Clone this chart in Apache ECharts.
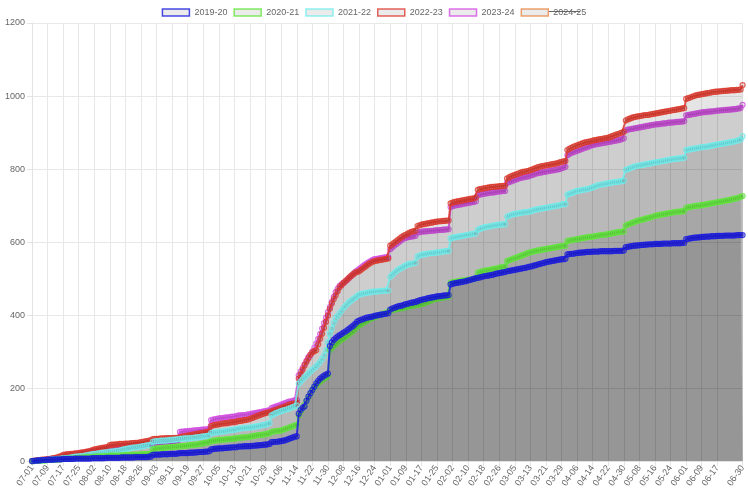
<!DOCTYPE html>
<html>
<head>
<meta charset="utf-8">
<script src="https://cdn.jsdelivr.net/npm/echarts@6.0.0/dist/echarts.min.js"></script>
<style>
  html, body { margin: 0; padding: 0; background: #fff; }
  #main { width: 748px; height: 490px; }
</style>
</head>
<body>
<div id="main"></div>
<script>
// season year labels and line colours
var seasons = ['2019-20', '2020-21', '2021-22', '2022-23', '2023-24', '2024-25'];
var colors = ['#1c1ce0', '#62e63c', '#72ecec', '#dc3a2e', '#d44ee4', '#e8884a'];

// day labels 07-01 .. 06-30 (leap season, 366 days)
var months = [7, 8, 9, 10, 11, 12, 1, 2, 3, 4, 5, 6];
var monthDays = [31, 31, 30, 31, 30, 31, 31, 29, 31, 30, 31, 30];
var days = [];
months.forEach(function (m, i) {
  for (var d = 1; d <= monthDays[i]; d++) {
    days.push((m < 10 ? '0' : '') + m + '-' + (d < 10 ? '0' : '') + d);
  }
});

// cumulative counts, one value per day
var s2019 = [
  0,1,1,2,2,3,3,3, 4,4,4,4,5,5,5,5, 6,6,6,6,6,6,7,7, 7,7,7,7,7,7,7,8,
  8,8,8,8,8,8,9,9, 9,9,9,9,9,9,10,10, 10,10,10,10,10,11,11,11, 11,11,11,11,12,12,17,18,
  18,18,18,19,19,19,19,20, 20,20,20,21,22,22,22,22, 22,23,23,23,24,24,25,25, 25,26,26,27,32,33,34,34,
  35,35,35,36,36,37,37,38, 38,38,40,40,40,41,41,41, 41,42,42,43,43,44,44,45, 45,46,47,52,52,53,53,54,
  55,56,57,59,61,63,65,67, 68,130,140,146,150,165,177,186, 195,204,213,220,226,230,234,237, 240,315,325,332,337,341,345,348,
  352,355,359,363,367,371,376,382, 385,387,389,391,393,394,395,396, 398,399,400,401,402,403,404,405, 415,418,420,422,424,425,426,428,
  430,431,433,434,435,436,438,440, 442,443,444,446,447,448,449,450, 451,452,452,453,454,454,455,484, 486,487,488,489,490,491,492,493,
  495,496,498,499,501,502,503,505, 506,507,508,509,510,511,513,514, 515,516,517,518,520,521,522,523, 524,525,526,527,528,529,530,532,
  533,534,536,537,539,540,542,543, 545,546,547,548,549,550,551,552, 553,553,554,566,567,568,568,569, 570,571,571,572,572,573,573,573,
  574,574,574,574,575,575,575,575, 575,575,575,576,576,576,576,576, 577,586,587,588,589,590,590,591, 591,592,592,593,593,594,594,594,
  595,595,595,595,596,596,596,596, 596,597,597,597,597,597,598,598, 608,609,610,611,612,612,613,613, 614,614,615,615,615,616,616,616,
  617,617,617,617,618,618,618,618, 618,618,619,619,619,619
];
var s2020 = [
  0,0,1,1,1,2,2,2, 3,3,3,4,4,4,5,5, 6,6,6,7,7,7,8,8, 9,9,9,10,10,10,11,11,
  12,12,13,13,13,13,14,14, 15,15,15,15,15,15,16,16, 17,17,17,17,18,18,18,18, 19,19,19,19,20,20,32,33,
  35,35,36,36,37,37,38,38, 39,39,40,40,41,41,42,42, 43,44,44,45,45,46,47,48, 49,50,51,52,55,56,56,57,
  58,58,59,59,60,60,61,61, 62,62,64,64,65,65,66,66, 67,68,69,70,71,72,72,73, 74,75,76,80,81,82,83,83,
  84,86,88,90,92,94,96,98, 99,125,135,145,155,165,175,185, 195,202,208,213,218,222,226,230, 233,305,310,315,320,325,330,333,
  336,340,344,348,352,356,362,368, 372,375,378,381,384,387,390,392, 395,397,399,401,403,405,407,408, 413,414,415,416,417,418,419,420,
  422,423,424,425,426,427,428,429, 430,432,434,436,438,440,442,444, 445,446,447,448,449,450,451,488, 490,491,492,493,494,495,495,496,
  497,497,498,499,500,516,518,520, 521,522,523,524,525,526,527,528, 530,531,532,533,548,550,552,554, 556,558,560,562,564,566,568,571,
  572,573,575,576,577,578,579,580, 581,582,583,584,585,586,587,588, 589,590,590,603,604,605,606,607, 608,609,610,611,612,613,614,614,
  615,616,617,618,619,620,620,621, 622,623,624,625,626,627,628,628, 629,645,648,650,652,654,656,658, 660,661,662,664,665,667,668,670,
  672,673,674,675,676,677,678,679, 680,681,682,683,683,684,684,685, 694,695,696,697,698,699,700,700, 701,702,703,704,705,706,707,708,
  709,710,711,712,713,714,715,716, 718,719,720,722,724,726
];
var s2021 = [
  0,0,1,1,2,2,3,3, 3,4,4,5,5,6,6,7, 8,8,9,9,10,11,12,12, 13,14,14,15,16,17,18,19,
  20,20,21,22,23,23,24,25, 26,26,27,28,28,29,31,32, 33,34,35,36,37,38,38,39, 40,41,42,43,44,44,53,54,
  55,55,56,56,56,57,57,58, 58,59,59,60,61,61,62,62, 62,63,63,64,65,65,66,67, 68,68,69,70,77,78,79,79,
  80,81,81,82,83,84,85,85, 86,87,89,89,90,91,91,92, 92,93,94,95,96,97,98,99, 100,102,104,125,128,131,133,135,
  137,139,140,142,144,146,148,150, 152,212,218,224,230,235,240,245, 250,255,260,266,272,280,290,304, 325,349,363,378,390,398,405,412,
  420,425,431,436,440,444,448,452, 456,458,459,460,461,462,463,464, 464,465,465,466,466,467,467,467, 505,510,515,520,524,527,530,533,
  536,538,540,541,542,543,560,563, 565,566,567,568,569,570,570,571, 572,572,573,574,575,575,576,610, 612,613,614,615,616,617,618,619,
  620,621,622,623,624,634,636,638, 640,641,642,643,644,645,646,647, 648,648,649,649,670,672,674,676, 677,678,679,680,681,682,682,683,
  684,686,688,689,690,691,692,693, 694,695,696,697,698,699,700,701, 703,704,704,730,732,734,736,738, 740,741,742,743,744,745,746,748,
  750,752,754,756,757,758,759,760, 761,762,763,764,765,765,766,767, 768,798,800,802,804,806,808,809, 810,811,812,813,814,815,816,817,
  818,819,820,821,822,823,824,825, 826,827,828,828,829,830,830,831, 852,853,854,855,856,857,858,859, 860,861,861,862,863,864,865,866,
  867,868,869,870,871,872,873,874, 875,876,878,879,881,890
];
var s2022 = [
  0,1,2,3,3,4,4,5, 5,6,7,8,9,10,12,14, 17,18,19,19,20,20,21,21, 22,23,24,25,26,27,28,30,
  32,33,34,35,36,37,38,39, 44,45,45,46,46,47,47,47, 48,48,48,49,49,50,50,51, 52,53,54,55,56,57,60,61,
  61,61,62,62,62,63,63,63, 63,64,64,64,66,67,68,69, 70,71,72,73,74,75,76,77, 78,79,80,81,96,98,99,100,
  101,102,103,104,104,105,106,107, 107,108,110,110,111,112,113,114, 116,118,120,122,124,126,128,130, 132,133,134,136,138,140,142,144,
  146,148,150,152,154,156,157,158, 160,226,238,250,262,272,282,292, 298,301,304,320,335,349,365,382, 399,417,432,444,454,465,476,482,
  488,493,498,503,508,512,516,518, 520,524,528,532,536,540,543,546, 548,549,550,551,552,553,554,555, 590,594,598,602,606,610,614,618,
  620,623,626,628,630,631,644,646, 648,649,650,651,652,653,654,655, 656,657,657,658,658,659,659,706, 708,710,711,712,713,714,715,716,
  717,718,719,720,722,743,745,746, 747,748,749,750,751,751,752,752, 753,753,754,754,774,777,780,782, 784,786,788,790,792,793,794,795,
  797,799,801,803,805,807,808,809, 810,811,812,813,814,815,816,818, 820,821,822,852,855,858,861,863, 865,867,869,871,873,874,875,876,
  878,879,880,881,882,883,884,885, 886,888,890,892,894,896,898,900, 902,933,936,938,940,942,943,944, 945,946,947,948,948,949,950,951,
  952,953,954,955,956,957,958,959, 960,961,962,963,964,965,966,967, 992,994,996,998,1000,1002,1003,1004, 1005,1006,1007,1008,1009,1010,1011,1012,
  1012,1013,1013,1014,1014,1015,1015,1016, 1016,1016,1017,1017,1018,1030
];
var s2023 = [
  0,1,1,2,2,3,3,4, 4,5,6,7,8,9,10,11, 12,13,14,15,16,17,18,19, 20,21,22,23,24,25,26,27,
  28,29,30,31,32,33,33,34, 35,35,36,36,37,37,38,38, 40,40,41,41,42,42,43,43, 44,44,45,45,46,46,50,50,
  51,52,52,53,53,54,54,55, 55,56,56,57,80,81,81,82, 82,83,83,84,84,85,85,86, 86,87,87,88,112,114,115,116,
  117,118,118,119,120,120,121,122, 122,123,125,125,126,126,127,128, 129,130,131,132,133,134,135,136, 137,138,139,145,147,149,151,153,
  155,157,159,161,163,164,165,167, 168,235,245,255,265,275,285,290, 300,310,322,335,348,363,378,393, 408,422,436,450,463,472,480,484,
  488,492,497,502,507,512,518,522, 526,530,534,538,542,545,548,551, 553,554,555,556,557,558,558,559, 580,585,590,594,598,602,606,610,
  612,613,614,615,616,617,626,627, 628,629,629,630,630,631,631,632, 632,633,633,634,634,635,635,696, 698,700,701,702,703,704,705,706,
  707,708,709,710,712,728,730,731, 732,733,734,735,736,736,737,738, 739,739,740,740,762,764,766,768, 770,772,774,776,777,778,779,780,
  782,784,786,788,789,790,791,792, 793,794,795,796,797,798,799,800, 802,804,806,838,841,844,846,848, 850,852,854,856,858,860,862,864,
  866,867,868,869,870,871,872,873, 874,875,876,877,878,879,880,882, 884,906,908,909,910,911,912,913, 914,915,916,917,918,919,920,921,
  922,923,923,924,925,925,926,927, 927,928,928,929,929,930,930,931, 947,948,949,950,951,952,953,954, 955,956,956,957,957,958,958,959,
  960,960,961,961,962,962,963,963, 964,964,965,966,967,976
];
var s2024 = [];

var seriesData = [s2019, s2020, s2021, s2022, s2023, s2024];

// x labels every 8 days, plus the last day
function labelShown(idx) {
  return (idx % 8 === 0 && idx <= 352) || idx === 365;
}

var myChart = echarts.init(document.getElementById('main'));

var option = {
  animation: false,
  textStyle: { fontFamily: 'Liberation Sans, Arial, sans-serif' },
  legend: {
    top: 3,
    left: 'center',
    icon: 'rect',
    itemWidth: 27,
    itemHeight: 7,
    itemGap: 6,
    selectedMode: false,
    textStyle: { fontSize: 9, color: '#666' },
    data: seasons.map(function (s, i) {
      return {
        name: s,
        itemStyle: { color: '#e6e6e6', borderColor: colors[i], borderWidth: 1.5 }
      };
    })
  },
  // strike-through on the hidden season's legend text
  graphic: [{
    type: 'line',
    shape: { x1: 549, y1: 11.5, x2: 580, y2: 11.5 },
    style: { stroke: '#666', lineWidth: 1 }
  }],
  grid: { left: 32, right: 3, top: 23, bottom: 27 },
  xAxis: {
    type: 'category',
    data: days,
    boundaryGap: false,
    axisLine: { lineStyle: { color: '#e3e3e3' } },
    axisTick: { show: true, interval: labelShown, length: 5, lineStyle: { color: '#e3e3e3' } },
    splitLine: { show: true, interval: labelShown, lineStyle: { color: '#e8e8e8' } },
    axisLabel: {
      interval: labelShown,
      rotate: 55,
      fontSize: 9,
      color: '#666',
      margin: 5
    }
  },
  yAxis: {
    type: 'value',
    min: 0,
    max: 1200,
    interval: 200,
    axisLine: { show: true, lineStyle: { color: '#e3e3e3' } },
    axisTick: { show: true, length: 5, lineStyle: { color: '#e3e3e3' } },
    splitLine: { lineStyle: { color: '#e8e8e8' } },
    axisLabel: { fontSize: 9, color: '#666', margin: 7, formatter: function (v) { return String(v); } }
  },
  series: seasons.map(function (s, i) {
    return {
      name: s,
      type: 'line',
      data: seriesData[i],
      z: 10 - i,
      symbol: 'circle',
      symbolSize: 5,
      showAllSymbol: true,
      lineStyle: { color: colors[i], width: 2, opacity: 0.85 },
      itemStyle: { color: 'rgba(0,0,0,0.1)', borderColor: colors[i], borderWidth: 1.2, opacity: 0.8 },
      areaStyle: { color: 'rgba(0,0,0,0.1)', origin: 'start', opacity: 1 },
      emphasis: { disabled: true }
    };
  })
};

myChart.setOption(option);
</script>
</body>
</html>
